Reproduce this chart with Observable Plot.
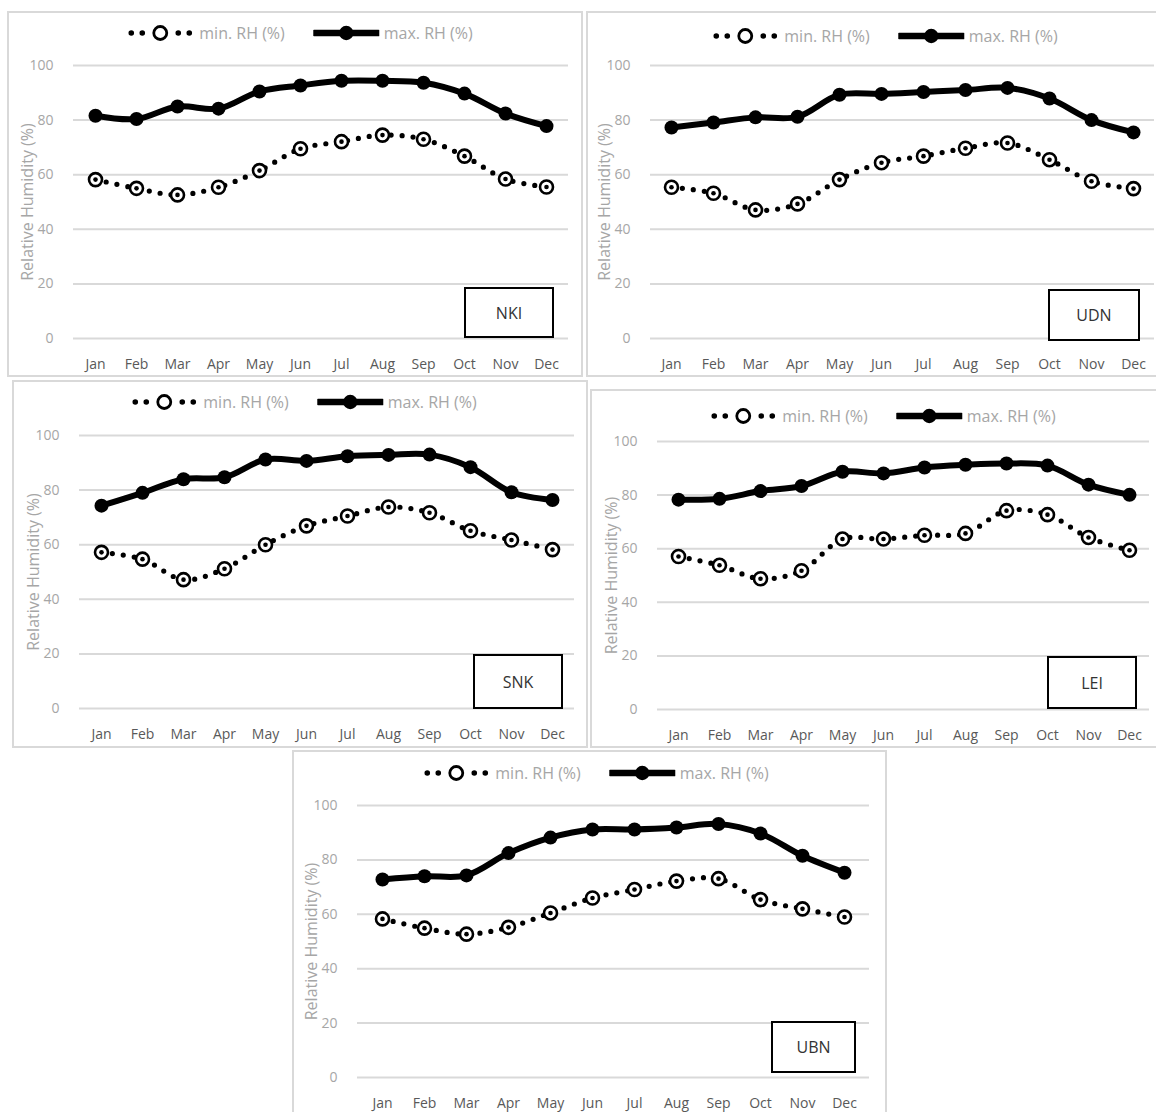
<!DOCTYPE html>
<html>
<head>
<meta charset="utf-8">
<script src="https://cdn.jsdelivr.net/npm/d3@7"></script>
<script src="https://cdn.jsdelivr.net/npm/@observablehq/plot@0.6"></script>
<style>
  html, body { margin: 0; padding: 0; background: #fff; }
  #page { position: relative; width: 1156px; height: 1112px; overflow: hidden; background: #fff; font-family: "Open Sans", sans-serif; }
  .frame { position: absolute; box-sizing: border-box; border: 2px solid #d9d9d9; }
  .legend { position: absolute; transform: translate(-50%, -50%); display: flex; align-items: center; white-space: nowrap; font-size: 16px; color: #a6a6a6; }
  .legend svg { display: block; }
  .chart { position: absolute; }
  .chart svg { display: block; }
  .tag { position: absolute; box-sizing: border-box; border: 2px solid #000; background: #fff; display: flex; align-items: center; justify-content: center; font-size: 16px; color: #333; }
</style>
</head>
<body>
<div id="page"></div>
<script>
// ---- data ----
const months = ["Jan","Feb","Mar","Apr","May","Jun","Jul","Aug","Sep","Oct","Nov","Dec"];
const yTicks = [0, 20, 40, 60, 80, 100];
const stations = ["NKI", "UDN", "SNK", "LEI", "UBN"];
const seriesNames = ["min. RH (%)", "max. RH (%)"];
const yTitle = "Relative Humidity (%)";

const minNKI = [58.2, 55.0, 52.6, 55.4, 61.5, 69.5, 72.1, 74.5, 73.0, 66.8, 58.4, 55.5];
const maxNKI = [81.6, 80.4, 85.0, 84.2, 90.5, 92.7, 94.4, 94.4, 93.7, 89.7, 82.4, 77.8];
const minUDN = [55.4, 53.2, 47.1, 49.3, 58.2, 64.4, 66.8, 69.7, 71.6, 65.5, 57.6, 54.9];
const maxUDN = [77.3, 79.1, 81.0, 81.2, 89.3, 89.6, 90.3, 91.0, 91.8, 87.9, 80.0, 75.5];
const minSNK = [57.2, 54.7, 47.2, 51.2, 60.0, 66.9, 70.5, 73.8, 71.7, 65.1, 61.7, 58.2];
const maxSNK = [74.3, 79.0, 84.0, 84.7, 91.2, 90.7, 92.4, 92.9, 93.0, 88.4, 79.2, 76.4];
const minLEI = [57.1, 53.8, 48.8, 51.8, 63.6, 63.6, 65.0, 65.7, 74.2, 72.7, 64.2, 59.4];
const maxLEI = [78.3, 78.6, 81.5, 83.4, 88.7, 88.1, 90.3, 91.3, 91.8, 91.0, 83.9, 80.1];
const minUBN = [58.3, 54.9, 52.7, 55.2, 60.5, 66.0, 69.1, 72.2, 73.1, 65.4, 62.0, 59.0];
const maxUBN = [72.8, 74.0, 74.3, 82.5, 88.2, 91.2, 91.2, 91.9, 93.2, 89.7, 81.5, 75.3];

const seriesByStation = {
  NKI: [minNKI, maxNKI], UDN: [minUDN, maxUDN], SNK: [minSNK, maxSNK],
  LEI: [minLEI, maxLEI], UBN: [minUBN, maxUBN]
};

// ---- layout (page pixel positions) ----
const layout = {
  NKI: {frame: [7, 11, 576, 366],  legend: [300, 33],  svg: [9, 48, 572, 327],    grid: [73, 568, 65, 338],   tag: [464, 287, 90, 51]},
  UDN: {frame: [586, 11, 572, 366], legend: [885, 36],  svg: [588, 48, 568, 327],  grid: [650, 1154, 65, 338], tag: [1048, 289, 92, 52]},
  SNK: {frame: [12, 380, 576, 368], legend: [304, 402], svg: [14, 417, 572, 329],  grid: [79, 574, 435, 708],  tag: [473, 654, 90, 55]},
  LEI: {frame: [590, 389, 568, 359], legend: [883, 416], svg: [592, 425, 564, 321], grid: [657, 1149, 441, 709], tag: [1047, 656, 90, 53]},
  UBN: {frame: [292, 750, 595, 370], legend: [596, 773], svg: [294, 787, 591, 325], grid: [357, 869, 805, 1077], tag: [771, 1021, 85, 52]}
};

const page = document.getElementById("page");

function el(tag, cls, css) {
  const e = document.createElement(tag);
  if (cls) e.className = cls;
  if (css) Object.assign(e.style, css);
  return e;
}

function swatch(kind) {
  const ns = "http://www.w3.org/2000/svg";
  const s = document.createElementNS(ns, "svg");
  s.setAttribute("width", 66); s.setAttribute("height", 18);
  if (kind === "min") {
    for (const cx of [4, 15, 51, 62]) {
      const c = document.createElementNS(ns, "circle");
      c.setAttribute("cx", cx); c.setAttribute("cy", 9); c.setAttribute("r", 2.8); c.setAttribute("fill", "#000");
      s.appendChild(c);
    }
    const c = document.createElementNS(ns, "circle");
    c.setAttribute("cx", 33); c.setAttribute("cy", 9); c.setAttribute("r", 6.5);
    c.setAttribute("fill", "#fff"); c.setAttribute("stroke", "#000"); c.setAttribute("stroke-width", 2.8);
    s.appendChild(c);
  } else {
    const l = document.createElementNS(ns, "line");
    l.setAttribute("x1", 1); l.setAttribute("x2", 65); l.setAttribute("y1", 9); l.setAttribute("y2", 9);
    l.setAttribute("stroke", "#000"); l.setAttribute("stroke-width", 6.5); l.setAttribute("stroke-linecap", "round");
    s.appendChild(l);
    const c = document.createElementNS(ns, "circle");
    c.setAttribute("cx", 33); c.setAttribute("cy", 9); c.setAttribute("r", 7.2); c.setAttribute("fill", "#000");
    s.appendChild(c);
  }
  return s;
}

for (const st of stations) {
  const L = layout[st];
  const [minS, maxS] = seriesByStation[st];
  const data = months.map((m, i) => ({month: m, min: minS[i], max: maxS[i]}));

  // frame
  page.appendChild(el("div", "frame", {left: L.frame[0] + "px", top: L.frame[1] + "px", width: L.frame[2] + "px", height: L.frame[3] + "px"}));

  // chart
  const [sx, sy, sw, sh] = L.svg;
  const [gl, gr, gt, gb] = L.grid;
  const chart = Plot.plot({
    width: sw, height: sh,
    marginLeft: gl - sx, marginRight: sx + sw - gr,
    marginTop: gt - sy, marginBottom: sy + sh - gb,
    style: {fontFamily: "Open Sans, sans-serif", background: "transparent", overflow: "visible"},
    x: {type: "point", domain: months, padding: 0.5},
    y: {domain: [0, 100]},
    marks: [
      Plot.gridY(yTicks, {stroke: "#d9d9d9", strokeOpacity: 1, strokeWidth: 2}),
      Plot.axisY(yTicks, {tickSize: 0, tickPadding: 20, fontSize: 14, fill: "#a6a6a6", label: null}),
      Plot.axisX(months, {tickSize: 0, tickPadding: 21, fontSize: 14, fill: "#595959", label: null}),
      Plot.text([yTitle], {frameAnchor: "left", rotate: -90, dx: -46, fontSize: 16, fill: "#a6a6a6", textAnchor: "middle"}),
      Plot.line(data, {x: "month", y: "min", curve: "catmull-rom", stroke: "#000", strokeWidth: 5.2, strokeDasharray: "0 11", strokeLinecap: "round"}),
      Plot.dot(data, {x: "month", y: "min", r: 6.5, fill: "#fff", stroke: "#000", strokeWidth: 2.6}),
      Plot.dot(data, {x: "month", y: "min", r: 2.3, fill: "#000"}),
      Plot.line(data, {x: "month", y: "max", curve: "catmull-rom", stroke: "#000", strokeWidth: 6, strokeLinejoin: "round"}),
      Plot.dot(data, {x: "month", y: "max", r: 7, fill: "#000"})
    ]
  });
  const wrap = el("div", "chart", {left: sx + "px", top: sy + "px", width: sw + "px", height: sh + "px"});
  wrap.appendChild(chart);
  page.appendChild(wrap);

  // legend
  const lg = el("div", "legend", {left: L.legend[0] + "px", top: L.legend[1] + "px"});
  lg.appendChild(swatch("min"));
  const t1 = el("span", null, {marginLeft: "6px", marginRight: "28px"}); t1.textContent = seriesNames[0];
  lg.appendChild(t1);
  lg.appendChild(swatch("max"));
  const t2 = el("span", null, {marginLeft: "5px"}); t2.textContent = seriesNames[1];
  lg.appendChild(t2);
  page.appendChild(lg);

  // station tag
  const tg = el("div", "tag", {left: L.tag[0] + "px", top: L.tag[1] + "px", width: L.tag[2] + "px", height: L.tag[3] + "px"});
  tg.textContent = st;
  page.appendChild(tg);
}
</script>
</body>
</html>
